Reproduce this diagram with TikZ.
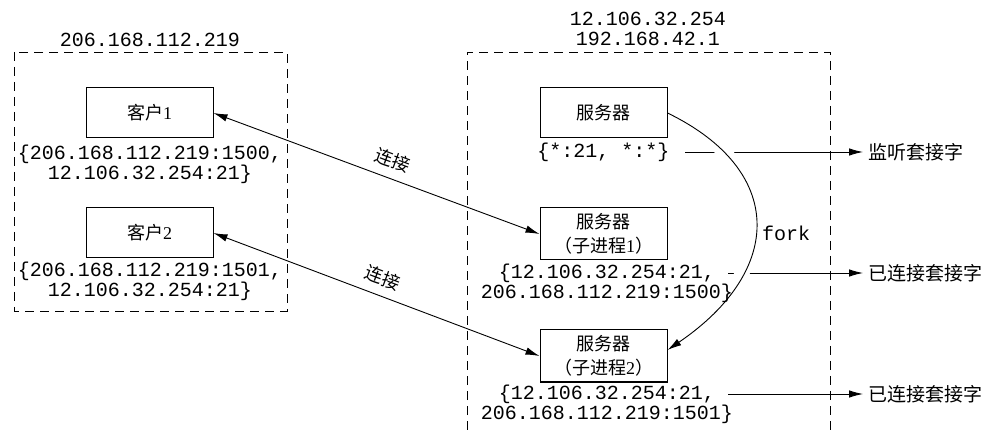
\documentclass[tikz,border=0pt]{standalone}
\usepackage{fontspec}
\setmainfont{Liberation Serif}
\setmonofont{Liberation Mono}
\newfontfamily\cjk{Noto Sans CJK SC}
\usetikzlibrary{arrows.meta}
\pgfdeclarelayer{background}
\pgfsetlayers{background,main}
\begin{document}
\begin{tikzpicture}[x=1pt,y=-1pt,
  proc/.style={draw, line width=1pt, minimum width=127pt, minimum height=50pt, inner sep=0pt, font=\fontsize{18}{24}\selectfont, align=center},
  addr/.style={font=\fontsize{20}{20}\selectfont\ttfamily, align=center, inner sep=0pt},
  host/.style={draw, line width=0.9pt, dash pattern=on 9pt off 6pt},
  conn/.style={line width=0.9pt, {Latex[length=14pt,width=7.5pt]}-{Latex[length=14pt,width=7.5pt]}},
  sock/.style={line width=0.9pt, -{Latex[length=14pt,width=7.5pt]}},
  forkline/.style={line width=0.9pt, -{Latex[length=14pt,width=7.5pt]}, preaction={draw=white, line width=14pt, -}},
  slabel/.style={font=\fontsize{19}{20}\selectfont\cjk, anchor=west, inner sep=5pt},
  clabel/.style={font=\fontsize{18}{20}\selectfont\cjk, sloped, above, inner sep=9pt},
  ]
\useasboundingbox (0,0) rectangle (991,430);

% host outlines
\draw[host] (14,52) rectangle (287,311);
\draw[host] (467,430) -- (467,52) -- (830,52) -- (830,430);

% host addresses
\node[addr] (ipA) at (150,40) {206.168.112.219};
\node[addr] (ipB) at (648,29) {12.106.32.254\\192.168.42.1};

% clients
\node[proc] (c1) at (149.5,113) {{\cjk 客户}1};
\node[addr] (c1a) at (150,164) {\{206.168.112.219:1500,\\12.106.32.254:21\}};
\node[proc] (c2) at (149.5,233) {{\cjk 客户}2};
\node[addr] (c2a) at (150,281) {\{206.168.112.219:1501,\\12.106.32.254:21\}};

% servers
\node[proc] (s0) at (603.5,113) {{\cjk 服务器}};
\node[addr] (s0a) at (603.5,152) {\{*:21, *:*\}};
\node[proc, minimum height=52pt] (s1) at (603.5,234) {{\cjk 服务器}\\{\cjk （子进程}1{\cjk ）}};
\node[addr] (s1a) at (607,283) {\{12.106.32.254:21,\\206.168.112.219:1500\}};
\node[proc, minimum height=52pt] (s2) at (603.5,356) {{\cjk 服务器}\\{\cjk （子进程}2{\cjk ）}};
\node[addr] (s2a) at (607,404) {\{12.106.32.254:21,\\206.168.112.219:1501\}};

\node[addr] (fk) at (786,233) {fork};

% socket labels
\node[slabel] (L0) at (863,152) {监听套接字};
\node[slabel] (L1) at (863,273) {已连接套接字};
\node[slabel] (L2) at (863,394) {已连接套接字};

\coordinate (p0) at (685,152);
\coordinate (p1) at (728,273);
\coordinate (p2) at (728,394);

\begin{pgfonlayer}{background}
\draw[sock] (p0) -- (L0.west);
\draw[sock] (p1) -- (L1.west);
\draw[sock] (p2) -- (L2.west);
\draw[forkline] (s0.east) .. controls (785,170) and (785,270) .. ([yshift=6pt]s2.east);
\draw[conn] (c1.east) -- node[clabel, pos=0.53] {连接} (s1.west);
\draw[conn] (c2.east) -- node[clabel, pos=0.5] {连接} (s2.west);
\end{pgfonlayer}
\end{tikzpicture}
\end{document}
